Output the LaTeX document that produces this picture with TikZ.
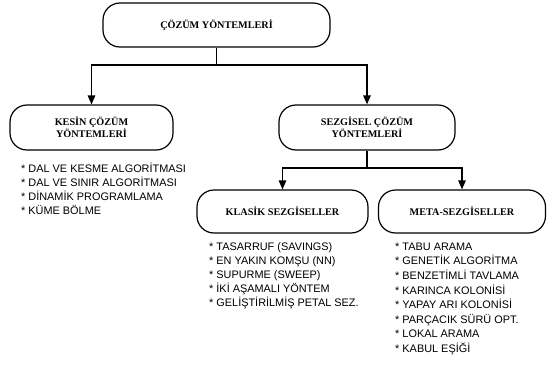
\documentclass[tikz,border=0pt]{standalone}
\usepackage{fontspec}
\setmainfont{Liberation Serif}
\newfontfamily\arialf{Liberation Sans}
\usetikzlibrary{arrows.meta}
\tikzset{
  rbox/.style={draw=black, line width=1.2pt, rounded corners=17pt, fill=white,
    align=center, inner sep=0pt, font=\bfseries\fontsize{10.2}{11.7}\selectfont},
  conn/.style={draw=black, line width=1.3pt},
  arr/.style={conn, -{Triangle[width=7.5pt,length=9pt]}},
  listtext/.style={anchor=north west, inner sep=0pt, align=left},
}
\begin{document}
\begin{tikzpicture}[x=1pt,y=-1pt]
\useasboundingbox (0,0) rectangle (547,367);
% boxes
\node[rbox, minimum width=227pt, minimum height=44pt] (top) at (216.5,25) {ÇÖZÜM YÖNTEMLERİ};
\node[rbox, minimum width=163pt, minimum height=45pt] (kesin) at (91.5,127.5) {KESİN ÇÖZÜM\\YÖNTEMLERİ};
\node[rbox, minimum width=176pt, minimum height=45pt] (sezg) at (367,127.5) {SEZGİSEL ÇÖZÜM\\YÖNTEMLERİ};
\node[rbox, minimum width=171pt, minimum height=43pt] (klasik) at (282.5,211.5) {KLASİK SEZGİSELLER};
\node[rbox, minimum width=167pt, minimum height=43pt] (meta) at (462,211.5) {META-SEZGİSELLER};
% junctions
\coordinate (j1) at (216.5,65);
\coordinate (j2) at (367,168);
\draw[conn] (top.south) -- (j1);
\draw[arr] (j1) -| (kesin.north);
\draw[arr] (j1) -| (sezg.north);
\draw[conn] (sezg.south) -- (j2);
\draw[arr] (j2) -| (klasik.north);
\draw[arr] (j2) -| (meta.north);
% lists
\node[listtext, font=\arialf\fontsize{10.9}{14.2}\selectfont] (klist) at (21,162)
  {\rule{0pt}{10pt}* DAL VE KESME ALGORİTMASI\\* DAL VE SINIR ALGORİTMASI\\* DİNAMİK PROGRAMLAMA\\* KÜME BÖLME};
\node[listtext, font=\arialf\fontsize{10.9}{14}\selectfont] (clist) at (209,240)
  {\rule{0pt}{10pt}* TASARRUF (SAVINGS)\\* EN YAKIN KOMŞU (NN)\\* SUPURME (SWEEP)\\* İKİ AŞAMALI YÖNTEM\\* GELİŞTİRİLMİŞ PETAL SEZ.};
\node[listtext, font=\arialf\fontsize{10.9}{14.6}\selectfont] (mlist) at (395,240)
  {\rule{0pt}{10pt}* TABU ARAMA\\* GENETİK ALGORİTMA\\* BENZETİMLİ TAVLAMA\\* KARINCA KOLONİSİ\\* YAPAY ARI KOLONİSİ\\* PARÇACIK SÜRÜ OPT.\\* LOKAL ARAMA\\* KABUL EŞİĞİ};
\end{tikzpicture}
\end{document}
